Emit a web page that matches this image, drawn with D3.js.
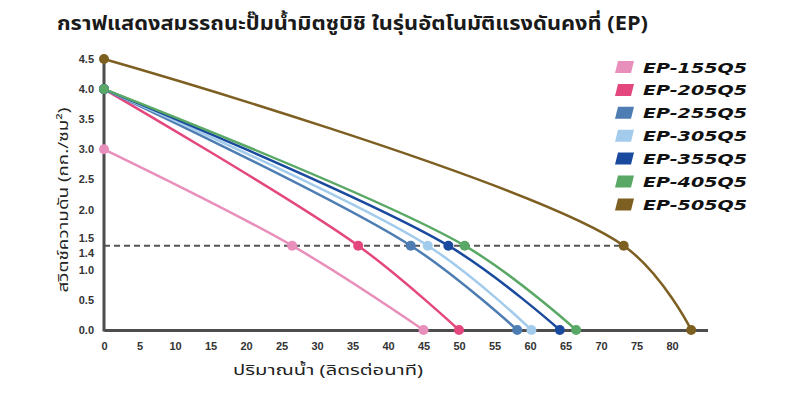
<!DOCTYPE html>
<html><head><meta charset="utf-8">
<script src="https://cdn.jsdelivr.net/npm/d3@7"></script>
<style>
html,body{margin:0;padding:0;background:#fff;}
svg{display:block;font-family:"Noto Sans Thai","Noto Sans","Liberation Sans",sans-serif;}
</style></head>
<body><svg id="c" width="810" height="420"></svg>
<script>
const title = "กราฟแสดงสมรรถนะปั๊มน้ำมิตซูบิชิ ในรุ่นอัตโนมัติแรงดันคงที่ (EP)";
const xLabel = "ปริมาณน้ำ (ลิตรต่อนาที)";
const yLabel = "สวิตช์ความดัน (กก./ซม²)";
const models = ["EP-155Q5","EP-205Q5","EP-255Q5","EP-305Q5","EP-355Q5","EP-405Q5","EP-505Q5"];
const colors = ["#e88fbb","#e4477e","#4d7db3","#a3cbec","#1a4a9e","#5aa865","#7e5f22"];
// flow (L/min) at each point, pressure (kg/cm²) at each point
const flows = [
  [0, 26.5, 45.0],
  [0, 35.8, 50.0],
  [0, 43.2, 58.2],
  [0, 45.6, 60.2],
  [0, 48.5, 64.2],
  [0, 50.8, 66.5],
  [0, 73.2, 82.7]
];
const pressures = [
  [3.0, 1.4, 0],
  [4.0, 1.4, 0],
  [4.0, 1.4, 0],
  [4.0, 1.4, 0],
  [4.0, 1.4, 0],
  [4.0, 1.4, 0],
  [4.5, 1.4, 0]
];
const cutIn = 1.4;
const xTicks = [0,5,10,15,20,25,30,35,40,45,50,55,60,65,70,75,80];
const yTicks = [0,0.5,1.0,1.4,1.5,2.0,2.5,3.0,3.5,4.0,4.5];

const svg = d3.select("#c");
const x = d3.scaleLinear().domain([0,85]).range([104,707.5]);
const y = d3.scaleLinear().domain([0,4.5]).range([330,59]);

// title
svg.append("text").attr("x",57).attr("y",30)
  .attr("font-size",19).attr("font-weight","bold").attr("fill","#1a1a1a")
  .attr("textLength",591).attr("lengthAdjust","spacingAndGlyphs")
  .text(title);

// dashed cut-in line
svg.append("line")
  .attr("x1",x(0)).attr("x2",x(flows[6][1]))
  .attr("y1",y(cutIn)).attr("y2",y(cutIn))
  .attr("stroke","#555").attr("stroke-width",2).attr("stroke-dasharray","6,4");

// axes
const gx = svg.append("g").attr("transform",`translate(0,${y(0)})`)
  .call(d3.axisBottom(x).tickValues(xTicks).tickSize(0).tickSizeOuter(0).tickPadding(12).tickFormat(d3.format("d")));
const gy = svg.append("g").attr("transform",`translate(${x(0)},0)`)
  .call(d3.axisLeft(y).tickValues(yTicks).tickSize(0).tickSizeOuter(0).tickPadding(10).tickFormat(d3.format(".1f")));
[gx,gy].forEach(g=>{
  g.select(".domain").attr("stroke","#4d4d4d").attr("stroke-width",3);
  g.selectAll("text").attr("font-family","'Liberation Sans',Arial,sans-serif")
   .attr("font-size",11).attr("font-weight","bold").attr("fill","#333");
});
gy.select(".domain").attr("d",`M0,${y(4.5)-4}V${y(0)+1.5}`);
gy.selectAll(".tick").filter(d=>d===1.4).select("text").attr("dy","0.95em");
gy.selectAll(".tick").filter(d=>d===1.5).select("text").attr("dy","0.2em");

// axis labels
svg.append("text").attr("x",328).attr("y",375).attr("text-anchor","middle")
  .attr("font-size",14).attr("fill","#222").attr("textLength",190).attr("lengthAdjust","spacingAndGlyphs")
  .text(xLabel);
svg.append("text").attr("transform","translate(68,200) rotate(-90)").attr("text-anchor","middle")
  .attr("font-size",14).attr("fill","#222").attr("textLength",185).attr("lengthAdjust","spacingAndGlyphs")
  .text(yLabel);

// curves
const line = d3.line().x(d=>x(d[0])).y(d=>y(d[1])).curve(d3.curveCatmullRom.alpha(0.5));
models.forEach((m,i)=>{
  const pts = flows[i].map((f,j)=>[f,pressures[i][j]]);
  svg.append("path").attr("d",line(pts)).attr("fill","none")
    .attr("stroke",colors[i]).attr("stroke-width",2.5);
});
models.forEach((m,i)=>{
  const pts = flows[i].map((f,j)=>[f,pressures[i][j]]);
  svg.append("g").selectAll("circle").data(pts).join("circle")
    .attr("cx",d=>x(d[0])).attr("cy",d=>y(d[1])).attr("r",5).attr("fill",colors[i]);
});

// legend
const lg = svg.append("g");
models.forEach((m,i)=>{
  const yy = 67 + i*22.9;
  const sx = 615;
  lg.append("polygon")
    .attr("points",`${sx+3},${yy-6} ${sx+19},${yy-6} ${sx+16},${yy+6} ${sx},${yy+6}`)
    .attr("fill",colors[i]);
  lg.append("text").attr("x",643).attr("y",yy+5.5)
    .attr("font-family","'DejaVu Sans',sans-serif").attr("font-size",14).attr("font-weight","bold")
    .attr("font-style","italic").attr("fill","#111")
    .attr("textLength",104).attr("lengthAdjust","spacingAndGlyphs").text(m);
});
</script></body></html>
